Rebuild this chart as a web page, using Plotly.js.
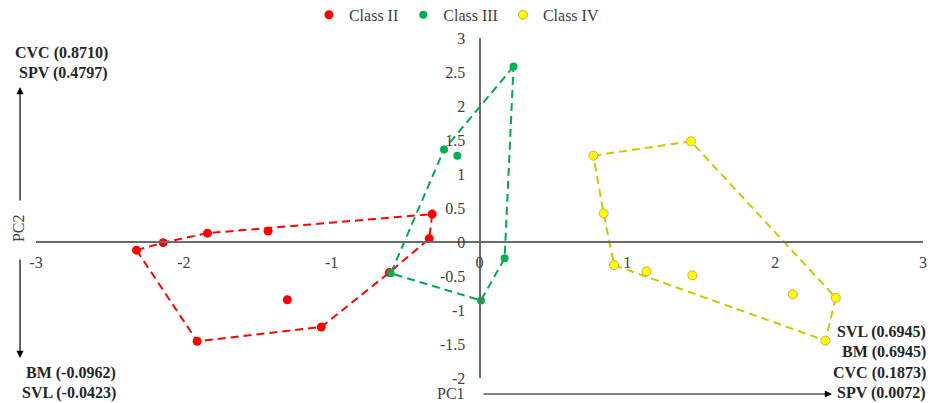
<!DOCTYPE html>
<html>
<head>
<meta charset="utf-8">
<script src="https://cdn.plot.ly/plotly-3.0.1.min.js"></script>
<style>
  html, body { margin: 0; padding: 0; background: #ffffff; }
  #chart { width: 938px; height: 403px; }
</style>
</head>
<body>
<div id="chart"></div>
<script>
// PCA scores (PC1, PC2) per class
const classII_x = [-2.32, -2.14, -1.84, -1.43, -0.32, -0.34, -0.61, -1.30, -1.07, -1.91];
const classII_y = [-0.12, -0.01, 0.13, 0.16, 0.41, 0.05, -0.45, -0.85, -1.25, -1.46];
const classIII_x = [0.23, -0.24, -0.15, -0.60, 0.01, 0.17];
const classIII_y = [2.58, 1.36, 1.27, -0.46, -0.86, -0.24];
const classIV_x = [0.77, 1.43, 0.84, 0.91, 1.13, 1.44, 2.12, 2.41, 2.34];
const classIV_y = [1.27, 1.48, 0.42, -0.34, -0.43, -0.49, -0.77, -0.82, -1.45];

// convex hull vertices (indices into each class, in drawing order)
const hullII = [0, 1, 2, 4, 5, 6, 8, 9];
const hullIII = [0, 1, 3, 4, 5];
const hullIV = [0, 1, 7, 8, 3, 2];

const classNames = ['Class II', 'Class III', 'Class IV'];

// axis ticks
const xTicks = [-3, -2, -1, 0, 1, 2, 3];
const yTicks = [-2, -1.5, -1, -0.5, 0, 0.5, 1, 1.5, 2, 2.5, 3];

// variable loadings shown at the ends of the axis arrows
const pc2Positive = [['CVC', 0.8710], ['SPV', 0.4797]];
const pc2Negative = [['BM', -0.0962], ['SVL', -0.0423]];
const pc1Positive = [['SVL', 0.6945], ['BM', 0.6945], ['CVC', 0.1873], ['SPV', 0.0072]];

const serif = "'Liberation Serif', 'Times New Roman', serif";
const textColor = '#404040';

function closed(idx, arr) {
  const out = idx.map(i => arr[i]);
  out.push(arr[idx[0]]);
  return out;
}

function hullTrace(idx, xs, ys, color) {
  return {
    x: closed(idx, xs), y: closed(idx, ys),
    type: 'scatter', mode: 'lines', showlegend: false, hoverinfo: 'skip',
    line: { color: color, width: 2, dash: '8px,5px' }
  };
}

function pointTrace(name, xs, ys, fill, outline, size) {
  return {
    x: xs, y: ys, name: name, type: 'scatter', mode: 'markers',
    marker: { color: fill, size: size, line: { color: outline, width: outline ? 1 : 0 } }
  };
}

const data = [
  hullTrace(hullII, classII_x, classII_y, '#FF0000'),
  hullTrace(hullIII, classIII_x, classIII_y, '#00A84F'),
  hullTrace(hullIV, classIV_x, classIV_y, '#C9C906'),
  pointTrace(classNames[0], classII_x, classII_y, '#FF0000', null, 9),
  pointTrace(classNames[1], classIII_x, classIII_y, '#00B050', null, 8),
  pointTrace(classNames[2], classIV_x, classIV_y, '#FFFF00', '#D9A441', 9)
];

const fmt = pair => pair[0] + ' (' + pair[1].toFixed(4) + ')';

const annotations = [];
function addLabel(text, x, y) {
  annotations.push({
    xref: 'paper', yref: 'paper', x: x, y: y, xanchor: 'right', yanchor: 'middle',
    text: '<b>' + text + '</b>', showarrow: false,
    font: { family: serif, size: 16, color: '#262626' }
  });
}
pc2Positive.forEach((p, i) => addLabel(fmt(p), 0.0834, 0.956 - i * 0.059));
pc2Negative.forEach((p, i) => addLabel(fmt(p), 0.0924, 0.0147 - i * 0.0588));
pc1Positive.forEach((p, i) => addLabel(fmt(p), 1.0056, 0.135 - i * 0.0597));

// axis names and direction arrows
annotations.push({
  xref: 'paper', yref: 'paper', x: 0.468, y: -0.047, xanchor: 'center', yanchor: 'middle',
  text: 'PC1', showarrow: false,
  font: { family: serif, size: 16, color: textColor }
});
annotations.push({
  xref: 'paper', yref: 'paper', x: -0.0203, y: 0.441, xanchor: 'center', yanchor: 'middle',
  text: 'PC2', textangle: -90,
  showarrow: false, font: { family: serif, size: 16, color: textColor }
});
const arrowStyle = { text: '', showarrow: true, arrowhead: 2, arrowsize: 1.2, arrowwidth: 1.2, arrowcolor: '#000000' };
annotations.push(Object.assign({ xref: 'paper', yref: 'paper', x: 0.8974, y: -0.047, ax: -350, ay: 0 }, arrowStyle));
annotations.push(Object.assign({ xref: 'paper', yref: 'paper', x: -0.018, y: 0.856, ax: 0, ay: 115 }, arrowStyle));
annotations.push(Object.assign({ xref: 'paper', yref: 'paper', x: -0.018, y: 0.0588, ax: 0, ay: -100 }, arrowStyle));

const axisCommon = {
  showgrid: false, zeroline: false, showline: true, linecolor: '#6a6a6a', linewidth: 2,
  ticks: '', tickfont: { family: serif, size: 16, color: textColor }, anchor: 'free',
  fixedrange: true
};

const layout = {
  width: 938, height: 403,
  margin: { l: 36, r: 15, t: 38, b: 25, autoexpand: false },
  paper_bgcolor: '#ffffff', plot_bgcolor: '#ffffff',
  showlegend: true,
  legend: {
    orientation: 'h', x: 0.474, xanchor: 'center', y: 1.068, yanchor: 'middle',
    font: { family: serif, size: 16, color: textColor }, bgcolor: 'rgba(0,0,0,0)'
  },
  xaxis: Object.assign({}, axisCommon, {
    range: [-3, 3], position: 0.4, tickvals: xTicks, ticktext: xTicks.map(String),
    ticklabelstandoff: 6
  }),
  yaxis: Object.assign({}, axisCommon, {
    range: [-2, 3], position: 0.5, tickvals: yTicks, ticktext: yTicks.map(String),
    ticklabelstandoff: 10
  }),
  annotations: annotations
};

Plotly.newPlot('chart', data, layout, { displayModeBar: false, staticPlot: true });
</script>
</body>
</html>
